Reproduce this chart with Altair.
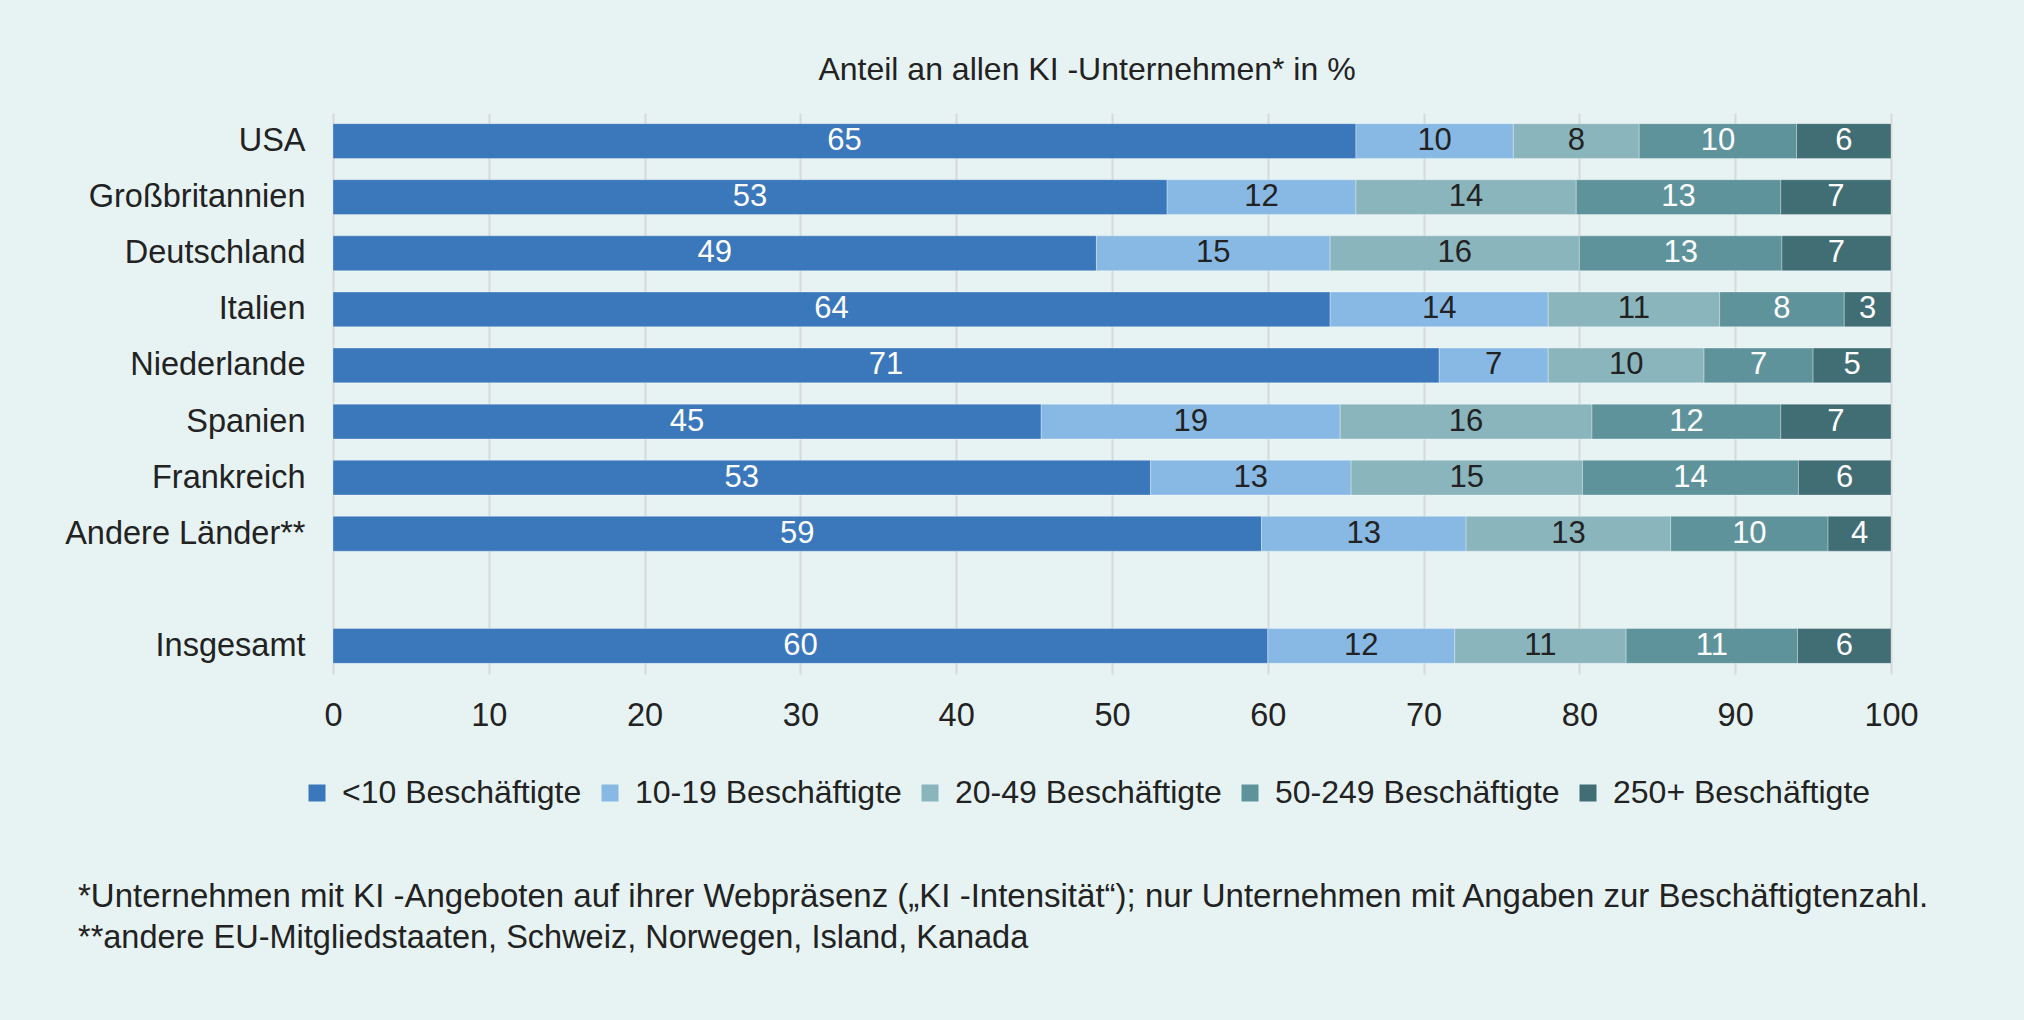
import altair as alt
import pandas as pd

# Kategorien
laender = ["USA", "Großbritannien", "Deutschland", "Italien", "Niederlande",
           "Spanien", "Frankreich", "Andere Länder**", "Insgesamt"]
groessen = ["<10 Beschäftigte", "10-19 Beschäftigte", "20-49 Beschäftigte",
            "50-249 Beschäftigte", "250+ Beschäftigte"]

# Anteile in % je Größenklasse (Reihenfolge wie laender)
anteil_lt10 = [65, 53, 49, 64, 71, 45, 53, 59, 60]
anteil_10_19 = [10, 12, 15, 14, 7, 19, 13, 13, 12]
anteil_20_49 = [8, 14, 16, 11, 10, 16, 15, 13, 11]
anteil_50_249 = [10, 13, 13, 8, 7, 12, 14, 10, 11]
anteil_250 = [6, 7, 7, 3, 5, 7, 6, 4, 6]

x_ticks = [0, 10, 20, 30, 40, 50, 60, 70, 80, 90, 100]

titel = "Anteil an allen KI -Unternehmen* in %"
fussnote_1 = ("*Unternehmen mit KI -Angeboten auf ihrer Webpräsenz („KI -Intensität“); "
              "nur Unternehmen mit Angaben zur Beschäftigtenzahl.")
fussnote_2 = "**andere EU-Mitgliedstaaten, Schweiz, Norwegen, Island, Kanada"

farben = ["#3A77BB", "#88B9E4", "#8BB5BD", "#5E939C", "#416D74"]
hintergrund = "#E7F3F3"
textfarbe = "#222222"
schrift = "Liberation Sans"

# Langformat für das gestapelte Balkendiagramm
reihen = [anteil_lt10, anteil_10_19, anteil_20_49, anteil_50_249, anteil_250]
zeilen = []
for gi, (gruppe, werte) in enumerate(zip(groessen, reihen)):
    for land, wert in zip(laender, werte):
        zeilen.append({"land": land, "groesse": gruppe, "ordnung": gi, "anteil": wert})
df = pd.DataFrame(zeilen)

# Leere Zeile als Abstand vor "Insgesamt"
y_domain = laender[:8] + [" "] + ["Insgesamt"]

base = alt.Chart(df).transform_stack(
    stack="anteil",
    groupby=["land"],
    sort=[alt.SortField("ordnung", order="ascending")],
    as_=["x0", "x1"],
    offset="normalize",
).transform_calculate(mitte="(datum.x0 + datum.x1) / 2")

x_scale = alt.Scale(domain=[0, 1], nice=False, zero=True)
y_scale = alt.Scale(domain=y_domain, paddingInner=0.38, paddingOuter=0.19)

balken = base.mark_bar(stroke="#ffffff", strokeWidth=1, strokeOpacity=0.3).encode(
    x=alt.X(
        "x0:Q",
        scale=x_scale,
        title=None,
        axis=alt.Axis(
            values=[t / 100 for t in x_ticks],
            labelExpr="round(datum.value * 100)",
            grid=True,
            gridColor="#D6D9D9",
            gridWidth=2,
            domain=False,
            ticks=False,
            labelFont=schrift,
            labelFontSize=32.5,
            labelColor=textfarbe,
            labelPadding=25,
            labelLimit=0,
            labelFlush=False,
            labelOverlap=False,
        ),
    ),
    x2="x1:Q",
    y=alt.Y(
        "land:N",
        scale=y_scale,
        sort=y_domain,
        title=None,
        axis=alt.Axis(
            domain=False,
            ticks=False,
            grid=False,
            labelFont=schrift,
            labelFontSize=32.5,
            labelColor=textfarbe,
            labelPadding=28,
            labelLimit=0,
        ),
    ),
    color=alt.Color(
        "groesse:N",
        scale=alt.Scale(domain=groessen, range=farben),
        sort=groessen,
        legend=alt.Legend(
            title=None,
            orient="none",
            direction="horizontal",
            legendX=-32,
            legendY=664,
            symbolType="square",
            symbolSize=289,
            symbolStrokeWidth=0,
            symbolOpacity=1,
            labelFont=schrift,
            labelFontSize=32,
            labelColor=textfarbe,
            labelOffset=9,
            labelLimit=1000,
            columnPadding=12,
            padding=0,
        ),
    ),
    order=alt.Order("ordnung:Q"),
)

dunkle_schrift = "datum.groesse === '10-19 Beschäftigte' || datum.groesse === '20-49 Beschäftigte'"

werte = base.mark_text(font=schrift, fontSize=31, baseline="middle", align="center").encode(
    x=alt.X("mitte:Q", scale=x_scale, title=None),
    y=alt.Y("land:N", scale=y_scale, sort=y_domain, title=None),
    text=alt.Text("anteil:Q", format="d"),
    color=alt.condition(dunkle_schrift, alt.value(textfarbe), alt.value("#ffffff")),
)

fuss1 = alt.Chart(pd.DataFrame({"t": [fussnote_1]})).mark_text(
    font=schrift, fontSize=33, align="left", baseline="alphabetic", color=textfarbe
).encode(text="t:N", x=alt.value(-255), y=alt.value(794))

fuss2 = alt.Chart(pd.DataFrame({"t": [fussnote_2]})).mark_text(
    font=schrift, fontSize=32.5, align="left", baseline="alphabetic", color=textfarbe
).encode(text="t:N", x=alt.value(-255), y=alt.value(835))

chart = alt.layer(balken, werte, fuss1, fuss2).properties(
    width=1558,
    height=561,
    autosize=alt.AutoSizeParams(type="none"),
    padding={"left": 333, "top": 113, "right": 133, "bottom": 346},
    background=hintergrund,
    title=alt.TitleParams(
        titel,
        font=schrift,
        fontSize=32,
        fontWeight="normal",
        color=textfarbe,
        anchor="middle",
        dx=-25,
        offset=26,
    ),
).configure_view(stroke=None)

chart.save("out.html", embed_options={"renderer": "svg", "actions": False})
